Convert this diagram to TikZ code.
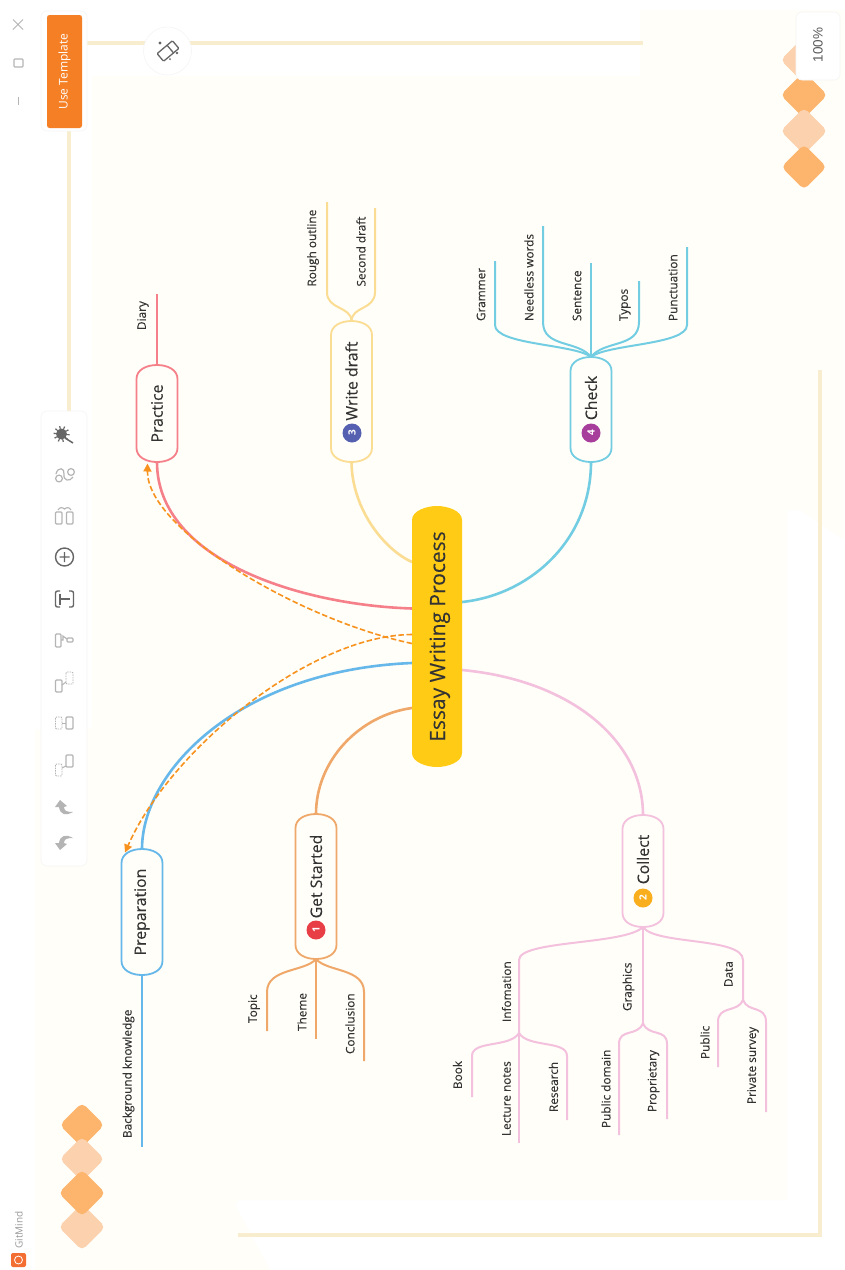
\documentclass[tikz,border=0pt]{standalone}
\usepackage{fontspec}
\setmainfont{Open Sans}
\newfontfamily\lblfont{Open Sans}[FakeBold=0.2]
\newfontfamily\arialfont{Liberation Sans}
\usetikzlibrary{calc,arrows.meta,backgrounds}
\definecolor{cream}{HTML}{FFFEF8}
\definecolor{framec}{HTML}{F9EDCF}
\definecolor{rootc}{HTML}{FFCB14}
\definecolor{prc}{HTML}{F6808A}
\definecolor{wdc}{HTML}{FBDC93}
\definecolor{chc}{HTML}{72CDE3}
\definecolor{ppc}{HTML}{66B7EA}
\definecolor{gsc}{HTML}{EFA869}
\definecolor{coc}{HTML}{F3C0DD}
\definecolor{relc}{HTML}{F7921E}
\definecolor{dkd}{HTML}{FDB56E}
\definecolor{ltd}{HTML}{FCD1AE}
\definecolor{icond}{HTML}{666666}
\definecolor{iconl}{HTML}{B4B4B4}
\definecolor{txt}{HTML}{333333}
\definecolor{logoc}{HTML}{F36E32}
\tikzset{
  pillbox/.style={inner sep=0pt,outer sep=0pt,text=txt,font=\lblfont\fontsize{15.8}{18}\selectfont},
  leaflabel/.style={rotate=90,anchor=west,inner sep=0pt,outer sep=0pt,text=txt,font=\lblfont\fontsize{11.8}{14}\selectfont},
  badge/.style={circle,inner sep=0pt,minimum size=19pt,text=white,font=\fontsize{10}{10}\selectfont\bfseries},
  mainline/.style={line width=2.6pt},
  subline/.style={line width=2pt},
  frameline/.style={framec,line width=3.6pt},
  relline/.style={relc,line width=1.6pt,dash pattern=on 5.5pt off 2.6pt,-{Triangle[length=8pt,width=8pt]}},
  panel/.style={fill=white,draw=black!4,line width=0.6pt,rounded corners=6pt},
  diam/.style={rounded corners=5pt,rotate=45,minimum size=33pt,inner sep=0pt},
}
\newcommand{\pill}[2]{\path[#2] (#1.north) .. controls ($(#1.north)+(-11,0)$) and ($(#1.north west)+(0,5)$) .. ($(#1.north west)+(0,14)$) -- ($(#1.south west)+(0,-14)$) .. controls ($(#1.south west)+(0,-5)$) and ($(#1.south)+(-11,0)$) .. (#1.south) .. controls ($(#1.south)+(11,0)$) and ($(#1.south east)+(0,-5)$) .. ($(#1.south east)+(0,-14)$) -- ($(#1.north east)+(0,14)$) .. controls ($(#1.north east)+(0,5)$) and ($(#1.north)+(11,0)$) .. (#1.north) -- cycle;}
\newcommand{\leaf}[6]{\node[leaflabel] (#1) at (#3,#4) {#2}; \coordinate (#1End) at (#5,#6);}
\begin{document}
\begin{tikzpicture}[x=1pt,y=-1pt]
\useasboundingbox (0,0) rectangle (844,1270);
% nodes
\node[pillbox,minimum width=50pt,minimum height=261pt] (root) at (437,636.5) {\rotatebox{90}{\raisebox{-8pt}[0pt][0pt]{\fontsize{21}{24}\selectfont Essay Writing Process}}};
\node[pillbox,minimum width=41pt,minimum height=97pt] (practice) at (157,413.5) {\rotatebox{90}{Practice}};
\node[pillbox,minimum width=41pt,minimum height=141pt] (write) at (351.5,391.5) {\rotatebox{90}{\hspace*{21pt}Write draft}};
\node[pillbox,minimum width=41pt,minimum height=105pt] (check) at (591,409.5) {\rotatebox{90}{\hspace*{23pt}Check}};
\node[pillbox,minimum width=41pt,minimum height=126pt] (prep) at (142,912) {\rotatebox{90}{Preparation}};
\node[pillbox,minimum width=41pt,minimum height=145pt] (start) at (316,886.5) {\rotatebox{90}{\hspace*{20pt}Get Started}};
\node[pillbox,minimum width=41pt,minimum height=112pt] (collect) at (643,871) {\rotatebox{90}{\hspace*{23pt}Collect}};
\node[badge,fill={rgb,255:red,232;green,62;blue,69}] (b1) at (316,930) {\rotatebox{90}{1}};
\node[badge,fill={rgb,255:red,249;green,174;blue,29}] (b2) at (643,898) {\rotatebox{90}{2}};
\node[badge,fill={rgb,255:red,86;green,96;blue,176}] (b3) at (352,433) {\rotatebox{90}{3}};
\node[badge,fill={rgb,255:red,168;green,62;blue,156}] (b4) at (591,433) {\rotatebox{90}{4}};
% leaves
\leaf{diary}{Diary}{143}{330}{157}{294}
\leaf{rough}{Rough outline}{313}{286.5}{327}{202}
\leaf{second}{Second draft}{361}{286.5}{375}{208}
\leaf{grammer}{Grammer}{481}{321}{495}{261}
\leaf{needless}{Needless words}{529}{321}{543}{226}
\leaf{sentence}{Sentence}{577}{321}{591}{263}
\leaf{typos}{Typos}{625}{321}{639}{281}
\leaf{punct}{Punctuation}{673}{321}{687}{247}
\leaf{bgk}{Background knowledge}{128.5}{1138}{142}{1147}
\leaf{topic}{Topic}{254}{1023}{267}{1031}
\leaf{theme}{Theme}{302}{1031}{316}{1039}
\leaf{conclusion}{Conclusion}{350}{1054}{364}{1061}
\leaf{info}{Infomation}{506.5}{1022}{519}{1033}
\leaf{graphics}{Graphics}{628.5}{1011}{643}{1023}
\leaf{data}{Data}{728.5}{987}{743}{1000}
\leaf{book}{Book}{457.5}{1089}{472}{1097}
\leaf{lecture}{Lecture notes}{506.5}{1136}{519}{1143}
\leaf{research}{Research}{553.5}{1112}{567}{1120}
\leaf{pubdom}{Public domain}{606}{1128}{619}{1135}
\leaf{propr}{Proprietary}{653.5}{1112}{667}{1119}
\leaf{public}{Public}{705}{1059}{718}{1067}
\leaf{private}{Private survey}{753}{1104}{766}{1112}
% background and connectors
\begin{pgfonlayer}{background}
\fill[white] (0,0) rectangle (844,1270);
\fill[cream] (35,1270) -- (35,730) -- (92,728) -- (92,76) -- (640,76) -- (640,10) -- (844,10) -- (844,540) -- (800,510) -- (787,510) -- (787,1200) -- (238,1200) -- (235,1205) -- (270,1270) -- cycle;
\draw[frameline] (87,43) -- (643,43);
\draw[frameline] (69,130) -- (69,411);
\draw[frameline] (820,370) -- (820,1235) -- (238,1235);
% diamonds
\node[diam,fill=ltd] (dl4) at (82,1227) {};
\node[diam,fill=dkd,minimum size=31.5pt] (dl1) at (82,1125) {};
\node[diam,fill=ltd,minimum size=31.5pt] (dl2) at (82,1159) {};
\node[diam,fill=dkd] (dl3) at (82,1193) {};
\node[diam,fill=ltd] (dr1) at (804,60) {};
\node[diam,fill=dkd] (dr2) at (804,95) {};
\node[diam,fill=ltd] (dr3) at (804,131) {};
\node[diam,fill=dkd,minimum size=32pt] (dr4) at (804,167) {};
% main connectors
\draw[mainline,prc] (practice.south) .. controls (157,560) and (300,605) .. ($(root.north west)+(0,102.5)$);
\draw[mainline,wdc] (write.south) .. controls (352,510) and (385,550) .. ($(root.north west)+(0,56)$);
\draw[mainline,chc] (check.south) .. controls (591,540) and (530,595) .. ($(root.north east)+(0,96)$);
\draw[mainline,ppc] (prep.north) .. controls (142,770) and (240,670) .. ($(root.north west)+(0,157)$);
\draw[mainline,gsc] (start.north) .. controls (316,760) and (360,715) .. ($(root.north west)+(0,202)$);
\draw[mainline,coc] (collect.north) .. controls (643,740) and (570,680) .. ($(root.north east)+(0,164)$);
\pill{root}{fill=rootc}
\pill{practice}{draw=prc,line width=1.8pt,fill=cream}
\pill{write}{draw=wdc,line width=1.8pt,fill=cream}
\pill{check}{draw=chc,line width=1.8pt,fill=cream}
\pill{prep}{draw=ppc,line width=1.8pt,fill=cream}
\pill{start}{draw=gsc,line width=1.8pt,fill=cream}
\pill{collect}{draw=coc,line width=1.8pt,fill=cream}
% branches
\draw[subline,prc] (practice.north) -- (diaryEnd);
\draw[subline,ppc] (prep.south) -- (bgkEnd);
\draw[subline,wdc] (write.north) .. controls (351,306) and (327,310) .. (327,292) -- (roughEnd);
\draw[subline,wdc] (write.north) .. controls (352,306) and (375,310) .. (375,292) -- (secondEnd);
\draw[subline,chc] (check.north) .. controls (575,344) and (495,345) .. (495,325) -- (grammerEnd);
\draw[subline,chc] (check.north) .. controls (578,340) and (543,348) .. (543,322) -- (needlessEnd);
\draw[subline,chc] (check.north) -- (sentenceEnd);
\draw[subline,chc] (check.north) .. controls (604,340) and (639,348) .. (639,322) -- (typosEnd);
\draw[subline,chc] (check.north) .. controls (607,344) and (687,345) .. (687,325) -- (punctEnd);
\draw[subline,gsc] (start.south) .. controls (305,972) and (267,968) .. (267,992) -- (topicEnd);
\draw[subline,gsc] (start.south) -- (themeEnd);
\draw[subline,gsc] (start.south) .. controls (327,972) and (364,968) .. (364,992) -- (conclusionEnd);
\draw[subline,coc] (collect.south) .. controls (625,945) and (519,940) .. (519,960) -- (infoEnd);
\draw[subline,coc] (collect.south) -- (graphicsEnd);
\draw[subline,coc] (collect.south) .. controls (655,945) and (743,937) .. (743,960) -- (dataEnd);
\draw[subline,coc] (infoEnd) .. controls (510,1048) and (472,1040) .. (472,1056) -- (bookEnd);
\draw[subline,coc] (infoEnd) -- (lectureEnd);
\draw[subline,coc] (infoEnd) .. controls (528,1048) and (567,1040) .. (567,1056) -- (researchEnd);
\draw[subline,coc] (graphicsEnd) .. controls (638,1037) and (619,1028) .. (619,1044) -- (pubdomEnd);
\draw[subline,coc] (graphicsEnd) .. controls (648,1037) and (667,1028) .. (667,1044) -- (proprEnd);
\draw[subline,coc] (dataEnd) .. controls (738,1013) and (718,1005) .. (718,1022) -- (publicEnd);
\draw[subline,coc] (dataEnd) .. controls (748,1013) and (766,1005) .. (766,1022) -- (privateEnd);
\draw[relline] ($(root.north west)+(0,137.5)$) .. controls (300,620) and (147,530) .. ($(practice.south west)+(11,1.5)$);
\draw[relline] ($(root.north west)+(0,128.5)$) .. controls (310,635) and (170,750) .. ($(prep.north west)+(3.5,3.5)$);
\end{pgfonlayer}
% UI panels
\draw[panel] (41,11) rectangle (87,131);
\node[fill={rgb,255:red,245;green,127;blue,37},rounded corners=2.5pt,minimum width=35pt,minimum height=113pt,inner sep=0pt,text=white,font=\fontsize{12}{14}\selectfont] (usetpl) at (64.5,71.5) {\rotatebox{90}{Use Template}};
\fill[white,draw=black!4,line width=0.6pt] (167.5,51) circle (24);
\begin{scope}[shift={(168,51)},rotate=40]
\draw[icond,line width=1.3pt,rounded corners=1pt] (-10,-5) rectangle (10,5);
\draw[icond,line width=1.3pt] (3,-5) -- (3,5);
\end{scope}
\fill[icond] (160,43) circle (1.6) (177,53) circle (1.4) (170,59) circle (1);
\draw[iconl,line width=1pt] (13,19.5) -- (23,29.5) (13,29.5) -- (23,19.5);
\draw[iconl,line width=1.1pt,rounded corners=0.8pt] (14,59) rectangle (23,67);
\draw[iconl,line width=1pt] (18.5,97) -- (18.5,105);
\draw[panel] (41,411) rectangle (87,866);
% wand
\fill[icond] (61.5,434) circle (5.5);
\foreach \a in {0,36,...,324} {\fill[icond] (61.5,434) -- ++(\a:8) -- ++(\a+90:1.4) -- cycle;}
\draw[icond,line width=1.5pt] (65,438) -- (73,443);
% squiggle
\draw[iconl,line width=1.2pt] (59,478.5) circle (3.4) (71,472) circle (3.4);
\draw[iconl,line width=1.2pt] (56,474) .. controls (58,466) and (65,468) .. (64,474) .. controls (63,481) and (70,482) .. (73,477);
% tree
\draw[iconl,line width=1.2pt,rounded corners=1pt] (55.5,512) rectangle (62,524) (66.5,512) rectangle (73,524);
\draw[iconl,line width=1.1pt] (58,510) .. controls (60,507) and (62,507) .. (64.5,509) .. controls (67,507) and (69,507) .. (71,510);
% plus
\draw[icond,line width=1.4pt] (64.5,557) circle (9) (59.5,557) -- (69.5,557) (64.5,552) -- (64.5,562);
% T box
\draw[icond,line width=1.4pt,rounded corners=2pt] (60,591) -- (55.5,591) -- (55.5,607) -- (60,607) (69,591) -- (73.5,591) -- (73.5,607) -- (69,607);
\draw[icond,line width=1.4pt] (60,599) -- (70,599) (60,593.5) -- (60,604.5);
% layout icons
\draw[iconl,line width=1.2pt,rounded corners=1pt] (55.5,634) rectangle (61,647) (67,638) rectangle (73,642);
\draw[iconl,line width=1.1pt] (61,640) -- (63,640) -- (63,636) -- (67,639);
\draw[iconl,line width=1.2pt,rounded corners=1pt] (55.5,680) rectangle (62,692);
\draw[iconl,line width=0.9pt,dash pattern=on 1.5pt off 1pt,rounded corners=1pt] (66,672) rectangle (73,684);
\draw[iconl,line width=1pt] (62,685) -- (66,682);
\draw[iconl,line width=0.9pt,dash pattern=on 1.5pt off 1pt,rounded corners=1pt] (55.5,717) rectangle (62,729);
\draw[iconl,line width=1.2pt,rounded corners=1pt] (66,717) rectangle (73,729);
\draw[iconl,line width=1pt] (62,723) -- (66,723);
\draw[iconl,line width=0.9pt,dash pattern=on 1.5pt off 1pt,rounded corners=1pt] (55.5,764) rectangle (62,776);
\draw[iconl,line width=1.2pt,rounded corners=1pt] (66,755) rectangle (73,767);
\draw[iconl,line width=1pt] (62,768) -- (66,766);
% undo redo
\fill[iconl] (60,800) -- (55,807) -- (59,807) .. controls (60,815) and (66,816) .. (73,812) .. controls (67,812) and (64,811) .. (64,807) -- (67,806) -- cycle;
\fill[iconl] (60,850) -- (55,843) -- (59,843) .. controls (60,835) and (66,834) .. (73,838) .. controls (67,838) and (64,839) .. (64,843) -- (67,844) -- cycle;
% zoom box
\draw[panel] (796,12) rectangle (840,80);
\node[inner sep=0pt,text=black!65,font=\arialfont\fontsize{13.5}{15}\selectfont] (zoomtxt) at (818,45) {\rotatebox{90}{100\%}};
% logo
\node[inner sep=0pt,text=black!40,font=\fontsize{10}{12}\selectfont] (gitmind) at (19,1230) {\rotatebox{90}{GitMind}};
\fill[logoc,rounded corners=2pt] (11,1253) rectangle (26,1267);
\draw[white,line width=0.8pt] (18.5,1260) circle (4);
\end{tikzpicture}
\end{document}
